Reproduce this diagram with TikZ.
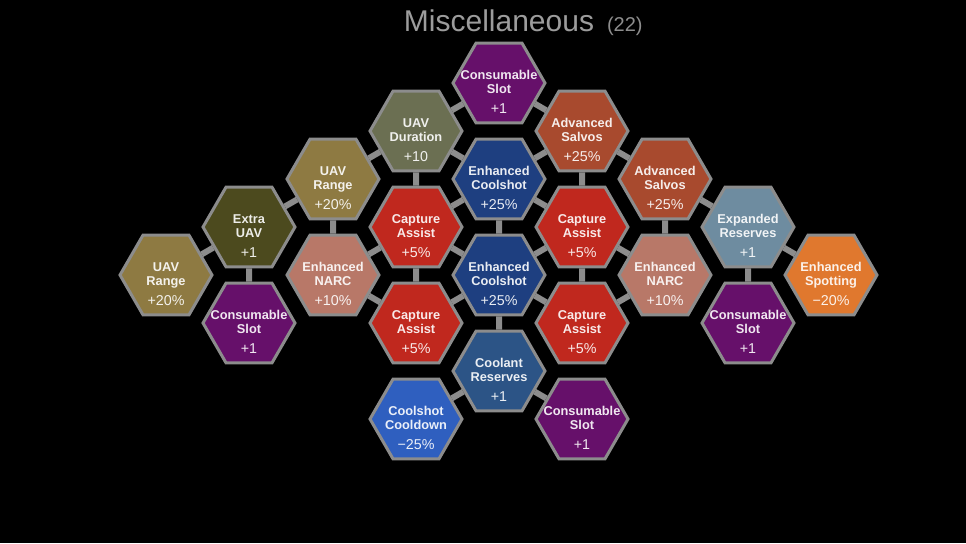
\documentclass[tikz,border=0pt]{standalone}
\usepackage{fontspec}
\setmainfont{Liberation Sans}
\usetikzlibrary{shapes.geometric,positioning}

\definecolor{slotpurple}{HTML}{66106A}
\definecolor{uavolive}{HTML}{6B6F52}
\definecolor{salvorust}{HTML}{A84A2E}
\definecolor{coolblue}{HTML}{1E3F80}
\definecolor{rangegold}{HTML}{8E7A42}
\definecolor{extraolive}{HTML}{4C4A1E}
\definecolor{capturered}{HTML}{C0281E}
\definecolor{narcpink}{HTML}{B87868}
\definecolor{reservegray}{HTML}{6E8CA0}
\definecolor{spotorange}{HTML}{E0782E}
\definecolor{coolantblue}{HTML}{2C5486}
\definecolor{cooldownblue}{HTML}{2F5FBF}
\definecolor{rimgray}{HTML}{8C8C8C}
\definecolor{titlegray}{HTML}{9C9C9C}

\pgfdeclarelayer{bg}
\pgfdeclarelayer{links}
\pgfsetlayers{bg,links,main}

\tikzset{
  perk/.style={regular polygon, regular polygon sides=6,
    minimum size=69pt, inner sep=-12pt, draw=rimgray, line width=2.25pt, fill=#1,
    align=center, text=white, text opacity=0.9,
    font=\fontsize{9.6pt}{10.9pt}\selectfont\bfseries},
  perklink/.style={draw=rimgray, line width=4.5pt}
}
% name, name, value
\newcommand{\perktext}[3]{\rule{0pt}{20pt}#1\\#2\\[4pt]{\mdseries\fontsize{10.7pt}{12pt}\selectfont #3}}

\begin{document}
\begin{tikzpicture}[x=0.75pt, y=-0.75pt]
    \begin{pgfonlayer}{bg}
        \fill[black] (0,0) rectangle (966,543);
    \end{pgfonlayer}
    \useasboundingbox (0,0) rectangle (966,543);

    \node[anchor=base, text=titlegray, font=\fontsize{22.5pt}{26pt}\selectfont] (title) at (499,31) {Miscellaneous};
    \node[base right=6pt of title, text=titlegray!90!black, font=\fontsize{15pt}{18pt}\selectfont, inner sep=0pt] (count) {(22)};

    \node[perk=slotpurple] (cs1) at (499,83) {\perktext{Consumable}{Slot}{+1}};
    \node[perk=uavolive] (uavdur) at (416,131) {\perktext{UAV}{Duration}{+10}};
    \node[perk=salvorust] (salvoA) at (582,131) {\perktext{Advanced}{Salvos}{+25\%}};

    \node[perk=rangegold] (rangeA) at (333,179) {\perktext{UAV}{Range}{+20\%}};
    \node[perk=coolblue] (coolA) at (499,179) {\perktext{Enhanced}{Coolshot}{+25\%}};
    \node[perk=salvorust] (salvoB) at (665,179) {\perktext{Advanced}{Salvos}{+25\%}};

    \node[perk=extraolive] (extrauav) at (249,227) {\perktext{Extra}{UAV}{+1}};
    \node[perk=capturered] (capA) at (416,227) {\perktext{Capture}{Assist}{+5\%}};
    \node[perk=capturered] (capB) at (582,227) {\perktext{Capture}{Assist}{+5\%}};
    \node[perk=reservegray] (reserves) at (748,227) {\perktext{Expanded}{Reserves}{+1}};

    \node[perk=rangegold] (rangeB) at (166,275) {\perktext{UAV}{Range}{+20\%}};
    \node[perk=narcpink] (narcA) at (333,275) {\perktext{Enhanced}{NARC}{+10\%}};
    \node[perk=coolblue] (coolB) at (499,275) {\perktext{Enhanced}{Coolshot}{+25\%}};
    \node[perk=narcpink] (narcB) at (665,275) {\perktext{Enhanced}{NARC}{+10\%}};
    \node[perk=spotorange] (spotting) at (831,275) {\perktext{Enhanced}{Spotting}{−20\%}};

    \node[perk=slotpurple] (cs2) at (249,323) {\perktext{Consumable}{Slot}{+1}};
    \node[perk=capturered] (capC) at (416,323) {\perktext{Capture}{Assist}{+5\%}};
    \node[perk=capturered] (capD) at (582,323) {\perktext{Capture}{Assist}{+5\%}};
    \node[perk=slotpurple] (cs3) at (748,323) {\perktext{Consumable}{Slot}{+1}};

    \node[perk=coolantblue] (coolant) at (499,371) {\perktext{Coolant}{Reserves}{+1}};
    \node[perk=cooldownblue] (cooldown) at (416,419) {\perktext{Coolshot}{Cooldown}{−25\%}};
    \node[perk=slotpurple] (cs4) at (582,419) {\perktext{Consumable}{Slot}{+1}};

    % links behind the cells
    \begin{pgfonlayer}{links}
        \draw[perklink] (cs1) -- (uavdur);
        \draw[perklink] (cs1) -- (salvoA);
        \draw[perklink] (uavdur) -- (rangeA);
        \draw[perklink] (uavdur) -- (coolA);
        \draw[perklink] (uavdur) -- (capA);
        \draw[perklink] (salvoA) -- (coolA);
        \draw[perklink] (salvoA) -- (salvoB);
        \draw[perklink] (salvoA) -- (capB);
        \draw[perklink] (rangeA) -- (extrauav);
        \draw[perklink] (rangeA) -- (narcA);
        \draw[perklink] (coolA) -- (capA);
        \draw[perklink] (coolA) -- (capB);
        \draw[perklink] (coolA) -- (coolB);
        \draw[perklink] (salvoB) -- (reserves);
        \draw[perklink] (salvoB) -- (narcB);
        \draw[perklink] (extrauav) -- (rangeB);
        \draw[perklink] (extrauav) -- (cs2);
        \draw[perklink] (capA) -- (narcA);
        \draw[perklink] (capA) -- (coolB);
        \draw[perklink] (capA) -- (capC);
        \draw[perklink] (capB) -- (coolB);
        \draw[perklink] (capB) -- (narcB);
        \draw[perklink] (capB) -- (capD);
        \draw[perklink] (reserves) -- (spotting);
        \draw[perklink] (reserves) -- (cs3);
        \draw[perklink] (narcA) -- (capC);
        \draw[perklink] (coolB) -- (capC);
        \draw[perklink] (coolB) -- (capD);
        \draw[perklink] (coolB) -- (coolant);
        \draw[perklink] (narcB) -- (capD);
        \draw[perklink] (coolant) -- (cooldown);
        \draw[perklink] (coolant) -- (cs4);
    \end{pgfonlayer}
\end{tikzpicture}
\end{document}
